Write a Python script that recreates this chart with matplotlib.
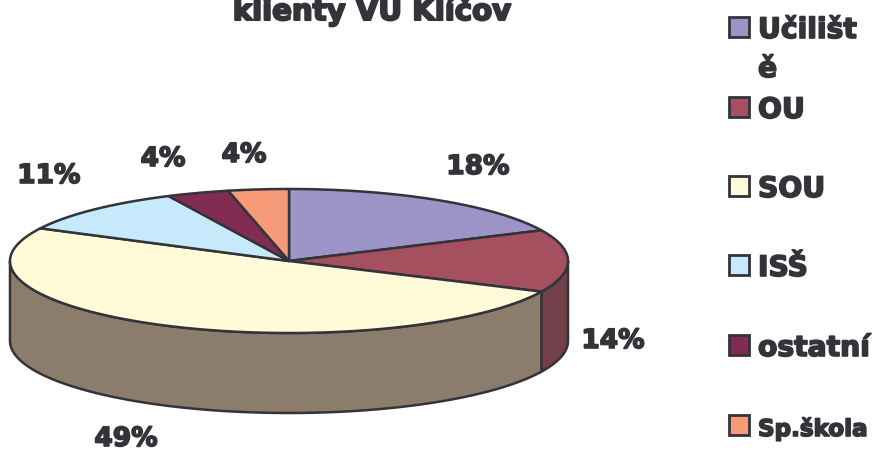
import numpy as np
import matplotlib
matplotlib.use("Agg")
import matplotlib.pyplot as plt
import matplotlib.patheffects as pe
from matplotlib.patches import Polygon, Rectangle

title = "klienty VU Klíčov"
categories = ["Učilišt\ně", "OU", "SOU", "ISŠ", "ostatní", "Sp.škola"]
# slice sizes as measured on the drawn pie, the printed labels differ a bit
shares = [18.0, 14.0, 50.5, 10.4, 3.6, 3.5]
pct_labels = ["18%", "14%", "49%", "11%", "4%", "4%"]

colors = ["#9C93C7", "#A5505E", "#FFFBD9", "#C6EAFB", "#822C54", "#F79A78"]
side_colors = ["#75696F", "#734049", "#8C7C6C", "#8C7C6C", "#5A2C42", "#A06A55"]
ink = "#333339"

cx, cy, rx, ry, depth = 289, 261, 279, 72, 80
label_pos = [(478, 174), (613, 348), (126, 446), (49, 183), (163, 166), (244, 162)]
legend_y = [27, 107, 186, 265, 345, 425]


def rim(a0, a1):
    t = np.radians(np.linspace(a0, a1, 120))
    return np.column_stack([cx + rx * np.sin(t), cy - ry * np.cos(t)])


def heavy(txt, w=1.2):
    txt.set_path_effects([pe.withStroke(linewidth=w, foreground=ink)])


fig = plt.figure(figsize=(8.74, 4.5), dpi=100)
ax = fig.add_axes([0, 0, 1, 1])
ax.set_xlim(0, 874)
ax.set_ylim(450, 0)
ax.axis("off")

edges = np.concatenate([[0], np.cumsum(shares)]) / sum(shares) * 360

# walls first, only the front half of the rim shows
for i in range(len(shares)):
    a0, a1 = max(edges[i], 90), min(edges[i + 1], 270)
    if a0 < a1:
        top = rim(a0, a1)
        wall = np.vstack([top, top[::-1] + [0, depth]])
        ax.add_patch(Polygon(wall, closed=True, fc=side_colors[i], ec=ink, lw=1.8, joinstyle="round"))

for i in range(len(shares)):
    pts = np.vstack([[cx, cy], rim(edges[i], edges[i + 1])])
    ax.add_patch(Polygon(pts, closed=True, fc=colors[i], ec=ink, lw=1.8, joinstyle="round"))

font = dict(family="DejaVu Sans", weight="bold", color=ink)

for lab, (x, y) in zip(pct_labels, label_pos):
    heavy(ax.text(x, y, lab, fontsize=19, ha="center", va="baseline", **font))

heavy(ax.text(372, 20, title, fontsize=21, ha="center", va="baseline", **font), 1.5)

for name, col, y in zip(categories, colors, legend_y):
    ax.add_patch(Rectangle((729, y - 10), 20, 20, fc=col, ec=ink, lw=2.0))
    if "\n" in name:
        first, second = name.split("\n")
        heavy(ax.text(758, y + 11, first, fontsize=20.3, va="baseline", **font))
        heavy(ax.text(758, y + 50, second, fontsize=20.3, va="baseline", **font))
    else:
        size = 16.6 if name == "Sp.škola" else 20.3
        heavy(ax.text(758, y + 11, name, fontsize=size, va="baseline", **font))

fig.savefig("out.png", dpi=100)
